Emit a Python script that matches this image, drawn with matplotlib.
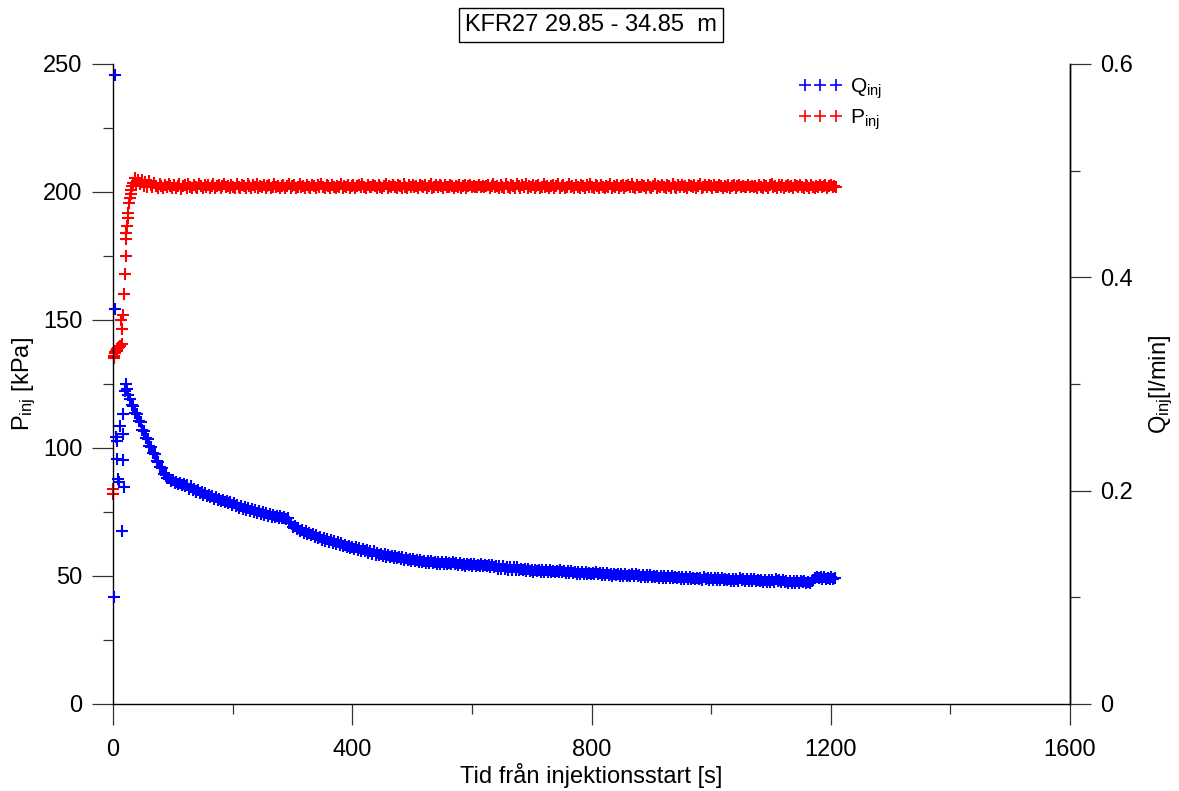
import numpy as np
import matplotlib
matplotlib.use("Agg")
import matplotlib.pyplot as plt
from matplotlib.ticker import MultipleLocator, FixedLocator
from matplotlib.lines import Line2D

plt.rcParams['font.family'] = ['Liberation Sans', 'DejaVu Sans']
plt.rcParams['mathtext.fontset'] = 'custom'
plt.rcParams['mathtext.rm'] = 'Liberation Sans'
plt.rcParams['mathtext.it'] = 'Liberation Sans'

title_text = "KFR27 29.85 - 34.85  m"
x_label = "Tid från injektionsstart [s]"
left_label = r"P$_{\mathrm{inj}}$ [kPa]"
right_label = r"Q$_{\mathrm{inj}}$[l/min]"
legend_q = r"Q$_{\mathrm{inj}}$"
legend_p = r"P$_{\mathrm{inj}}$"

# ---- Injection pressure (kPa) ----
p_time_start = [0.0, 0.8, 1, 2, 3, 4, 5, 6, 7, 9, 10, 11, 13.4, 14.5, 15.6, 17, 19, 20,
                21.7, 21.9, 22.5, 23, 24.5, 25.6, 27.2, 28.4, 29.5, 30.6, 32.2, 34, 36.8, 39]
p_start = [84, 82, 135, 136, 137, 137.5, 138, 138, 138.5, 139, 139.5, 140, 150, 146.5, 140.6,
           152, 160, 168, 175, 181.5, 184, 186.7, 190, 191.7, 195.6, 197.5, 199.2, 200.8,
           202.3, 203.6, 205.3, 203.5]
p_steady = [
    204.5, 203.2, 204.8, 202.5, 203.8, 202.0, 204.2, 202.8, 201.8, 203.5, 202.4, 201.6, 203.0, 202.2, 201.5, 202.9, 201.8, 203.1, 202.3, 201.5,
    202.9, 201.6, 202.5, 203.0, 201.3, 202.2, 202.7, 201.5, 203.2, 202.0, 201.4, 202.8, 202.1, 201.6, 203.0, 202.3, 201.5, 202.6, 201.9, 202.9,
    201.7, 202.4, 203.1, 201.4, 202.2, 202.8, 201.6, 202.5, 203.0, 201.8, 202.3, 201.5, 202.9, 202.0, 201.6, 203.2, 202.1, 201.4, 202.7, 202.2,
    201.6, 203.0, 202.2, 201.5, 202.6, 202.0, 203.1, 201.7, 202.4, 201.9, 202.8, 201.4, 202.3, 202.9, 201.6, 202.1, 203.0, 201.8, 202.5, 201.5,
    202.2, 202.9, 201.7, 202.4, 203.0, 201.5, 202.3, 202.7, 201.6, 202.1, 203.0, 201.8, 202.5, 201.4, 202.8, 202.0, 201.7, 202.9, 202.2, 201.5,
    202.6, 201.9, 203.1, 202.1, 201.5, 202.7, 202.3, 201.6, 202.9, 202.0, 201.7, 202.5, 202.0, 203.0, 201.6, 202.4, 201.9, 202.8, 201.5, 202.3,
    202.9, 201.6, 202.2, 202.7, 201.8, 203.0, 202.1, 201.5, 202.6, 202.0, 201.8, 202.8, 202.3, 201.5, 202.9, 202.1, 201.7, 202.5, 203.0, 201.6,
    202.4, 201.9, 202.7, 202.1, 201.5, 202.8, 202.2, 201.7, 203.0, 202.0, 201.6, 202.6, 202.0, 202.9, 201.8, 202.3, 201.5, 202.7, 202.2, 201.9,
    202.8, 201.7, 202.4, 203.0, 201.6, 202.1, 202.6, 201.8, 202.9, 202.2, 201.5, 202.7, 202.0, 201.8, 202.9, 202.3, 201.6, 202.5, 202.0, 202.8,
    201.7, 202.4, 202.9, 201.6, 202.2, 202.7, 201.9, 202.5, 202.1, 201.8, 202.6, 201.9, 202.4, 202.0, 202.3, 202.9, 201.6, 202.5, 203.0, 201.8,
    202.3, 201.5, 202.9, 202.0, 201.6, 203.1, 202.1, 201.4, 202.7, 202.2, 201.6, 203.0, 202.2, 201.5, 202.6, 202.0, 203.0, 201.7, 202.4, 201.9,
    202.8, 201.4, 202.3, 202.9, 201.6, 202.1, 203.0, 201.8, 202.5, 201.5, 202.2, 202.9, 201.7, 202.4, 203.0, 201.5, 202.3, 202.7, 201.6, 202.1,
    203.0, 201.8, 202.5, 201.4, 202.8, 202.0, 201.7, 202.9, 202.2, 201.5, 202.6, 201.9, 203.1, 202.1, 201.5, 202.7, 202.3, 201.6, 202.9, 202.0,
    201.7, 202.5, 202.0, 203.0, 201.6, 202.4, 201.9, 202.8, 201.5, 202.3, 202.9, 201.6, 202.2, 202.7, 201.8, 203.0, 202.1, 201.5, 202.6, 202.0,
    201.8, 202.8, 202.3, 201.5, 202.9, 202.1, 201.7, 202.5, 203.0, 201.6, 202.4, 201.9, 202.7, 202.1, 201.5, 202.8, 202.2, 201.7, 203.0, 202.0,
    201.6, 202.6, 202.0, 202.9, 201.8, 202.3, 201.5, 202.7, 202.2, 201.9, 202.8, 201.7, 202.4, 203.0, 201.6, 202.1, 202.6, 201.8, 202.9, 202.2,
    201.5, 202.7, 202.0, 201.8, 202.9, 202.3, 201.6, 202.5, 202.0, 202.8, 201.7, 202.4, 202.9, 201.6, 202.2, 202.7, 201.9, 202.5, 202.1, 201.8,
    202.6, 201.9, 202.4, 202.0, 202.3, 201.6, 202.8, 202.1, 201.5, 202.9, 202.2, 201.7, 202.6, 203.0, 201.8, 202.4, 201.5, 202.7, 202.1, 202.9,
    201.6, 202.3, 202.8, 201.9, 202.5, 201.4, 202.7, 202.2, 201.8, 202.9, 202.0, 201.5, 202.6, 202.3, 201.7, 202.8, 202.1, 201.6, 202.5, 202.0,
    202.7, 201.8, 202.4, 202.9, 201.6, 202.2, 202.6, 201.9, 202.3, 202.1]
p_time_steady = np.arange(42, 42 + 3 * len(p_steady), 3)

# ---- Injection flow (given in thousandths of l/min) ----
q_time_start = [2.5, 3, 3.5, 5, 6, 6.5, 9, 10, 11.7, 15.6, 17, 17.2, 17.4, 17.6, 20, 21.7, 23, 25]
q_start_milli = [100, 590, 370, 250, 230, 247, 211, 208, 261, 162.5,
                 272, 253, 229, 203, 293, 300, 295, 290]
q_steady_milli = [
    286, 280, 279, 273, 272, 265, 264, 257, 256, 249, 248, 242, 241, 235, 234, 228, 227, 222, 221, 216,
    215, 212, 212, 209, 210, 207, 208, 206, 207, 205, 206, 204, 205, 202, 204, 201, 202, 199, 201, 198,
    199, 196, 198, 195, 196, 194, 195, 192, 194, 191, 192, 190, 191, 189, 190, 188, 189, 187, 188, 186,
    187, 184, 186, 183, 185, 182, 184, 181, 183, 180, 182, 179, 181, 178, 180, 177, 179, 176, 178, 175,
    177, 175, 176, 174, 176, 174, 175, 173, 174, 170, 170, 166, 167, 164, 165, 162, 163, 160, 162, 159,
    160, 158, 159, 157, 158, 156, 157, 154, 156, 153, 155, 152, 154, 151, 153, 150, 152, 149, 151, 148,
    149, 147, 148, 146, 147, 145, 147, 144, 146, 143, 145, 143, 144, 142, 143, 141, 143, 140, 142, 140,
    141, 139, 141, 138, 140, 138, 139, 137, 139, 137, 138, 136, 138, 135, 137, 135, 136, 134, 136, 134,
    135, 133, 135, 133, 134, 132, 134, 132, 134, 132, 133, 131, 133, 131, 133, 131, 133, 131, 132, 131,
    133, 131, 132, 130, 132, 130, 131, 129, 131, 130, 131, 129, 131, 129, 130, 129, 131, 129, 130, 129,
    130, 128, 130, 128, 129, 127, 129, 127, 129, 127, 128, 126, 128, 126, 128, 126, 128, 126, 127, 126,
    127, 125, 127, 125, 126, 124, 126, 125, 126, 124, 126, 124, 126, 124, 126, 124, 125, 124, 125, 124,
    126, 124, 125, 123, 125, 123, 125, 123, 124, 122, 124, 122, 124, 122, 124, 122, 123, 122, 123, 122,
    124, 122, 123, 121, 123, 121, 123, 121, 122, 120, 122, 121, 122, 120, 122, 120, 122, 120, 121, 120,
    122, 120, 122, 120, 121, 119, 121, 119, 121, 119, 121, 119, 120, 119, 120, 118, 120, 118, 120, 118,
    120, 118, 120, 118, 119, 118, 119, 117, 119, 117, 119, 117, 119, 117, 118, 117, 118, 117, 118, 116,
    119, 117, 118, 116, 118, 116, 118, 116, 118, 116, 118, 116, 117, 116, 117, 115, 117, 115, 117, 115,
    118, 116, 117, 115, 117, 115, 117, 115, 117, 115, 116, 115, 116, 114, 116, 114, 116, 114, 116, 114,
    117, 115, 116, 114, 116, 114, 115, 113, 115, 113, 115, 113, 115, 113, 115, 114, 115, 113, 114, 113,
    115, 116, 118, 119, 118, 119, 117, 119, 117, 118, 117, 119, 117, 118]
q_time_steady = np.arange(28, 28 + 3 * len(q_steady_milli), 3)
q_start = np.array(q_start_milli) / 1000.0
q_steady = np.array(q_steady_milli) / 1000.0

x_ticks = [0, 400, 800, 1200, 1600]
left_ticks = [0, 50, 100, 150, 200, 250]
right_ticks = [0, 0.2, 0.4, 0.6]
right_tick_labels = ["0", "0.2", "0.4", "0.6"]

BLUE = "#0000FF"
RED = "#FF0000"

fig = plt.figure(figsize=(11.79, 7.91), dpi=100)
ax = fig.add_axes([113 / 1179, 1 - 704 / 791, (1070 - 113) / 1179, 640 / 791])
ax2 = ax.twinx()

mk = dict(marker='+', linestyle='none', markersize=8.5, markeredgewidth=1.5, clip_on=False)
ax.plot(np.concatenate([p_time_start, p_time_steady]),
        np.concatenate([p_start, p_steady]), color=RED, **mk)
ax2.plot(np.concatenate([q_time_start, q_time_steady]),
         np.concatenate([q_start, q_steady]), color=BLUE, **mk)

ax.set_xlim(0, 1600)
ax.set_ylim(0, 250)
ax2.set_ylim(0, 0.6)

ax.xaxis.set_major_locator(FixedLocator(x_ticks))
ax.xaxis.set_minor_locator(MultipleLocator(200))
ax.yaxis.set_major_locator(FixedLocator(left_ticks))
ax.yaxis.set_minor_locator(MultipleLocator(25))
ax2.yaxis.set_major_locator(FixedLocator(right_ticks))
ax2.set_yticklabels(right_tick_labels)
ax2.yaxis.set_minor_locator(MultipleLocator(0.1))

for a in (ax, ax2):
    a.spines['top'].set_visible(False)
    for s in a.spines.values():
        s.set_linewidth(1.0)
        s.set_color('black')
    a.tick_params(which='major', direction='out', length=15, width=0.9,
                  labelsize=17, pad=7, color='#333333')
    a.tick_params(which='minor', direction='out', length=7.5, width=0.9, color='#333333')
ax.tick_params(axis='x', pad=10)
ax2.spines['left'].set_visible(False)
ax2.spines['bottom'].set_visible(False)

ax.set_xlabel(x_label, fontsize=17, labelpad=2)
ax.set_ylabel(left_label, fontsize=17, labelpad=4)
ax2.set_ylabel(right_label, fontsize=17, labelpad=10)

fig.text(591 / 1179, 1 - 25 / 791, title_text, ha='center', va='center', fontsize=17,
         bbox=dict(boxstyle='square,pad=0.25', facecolor='white', edgecolor='black', linewidth=1))

handles = [Line2D([], [], color=BLUE, marker='+', linestyle='none', markersize=9, markeredgewidth=1.2),
           Line2D([], [], color=RED, marker='+', linestyle='none', markersize=9, markeredgewidth=1.2)]
ax2.legend(handles, [legend_q, legend_p], loc='upper left',
           bbox_to_anchor=(784 / 1179, 1 - 62 / 791), bbox_transform=fig.transFigure,
           frameon=False, numpoints=3, fontsize=15, handlelength=2.1, handletextpad=0.35,
           labelspacing=0.3, borderpad=0.2)

fig.savefig("out.png", dpi=100)
